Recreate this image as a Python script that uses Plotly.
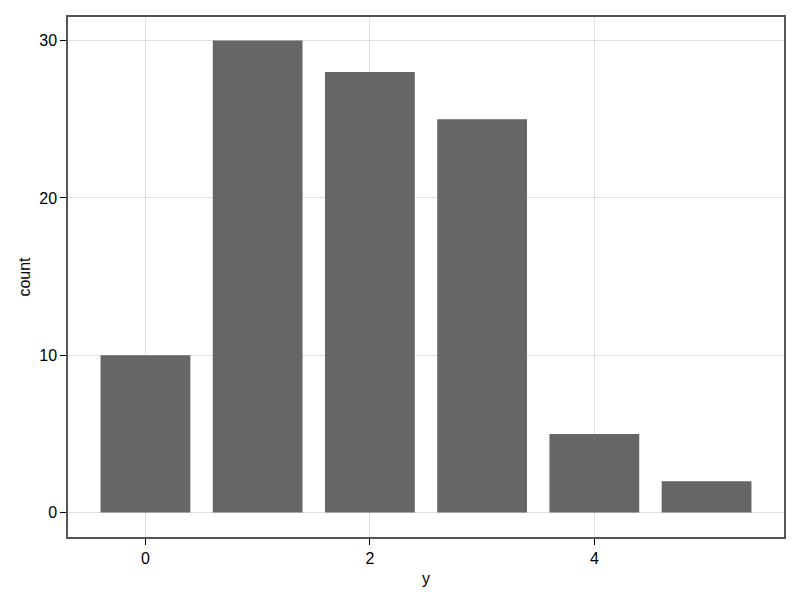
import plotly.graph_objects as go

y_values = [0, 1, 2, 3, 4, 5]
counts = [10, 30, 28, 25, 5, 2]
x_ticks = [0, 2, 4]
y_ticks = [0, 10, 20, 30]

fig = go.Figure()
fig.add_trace(go.Bar(
    x=y_values, y=counts, width=0.8,
    marker=dict(color="rgb(102,102,102)", line=dict(width=0)),
))

axis_common = dict(
    showline=True, linecolor="#555555", linewidth=1.5, mirror=True,
    ticks="outside", ticklen=6, tickwidth=1, tickcolor="black",
    showgrid=True, gridcolor="rgba(0,0,0,0.12)", gridwidth=1,
    zeroline=False, layer="above traces",
    tickfont=dict(family="Liberation Sans, Arial, sans-serif", size=16, color="black"),
    title_font=dict(family="Liberation Sans, Arial, sans-serif", size=16, color="black"),
)

fig.update_layout(
    width=800, height=600,
    margin=dict(l=60, r=24, t=7, b=71),
    paper_bgcolor="white", plot_bgcolor="white",
    showlegend=False,
    xaxis=dict(range=[-0.69, 5.69], tickvals=x_ticks, title=dict(text="y", standoff=7), **axis_common),
    yaxis=dict(range=[-1.55, 31.5], tickvals=y_ticks, title=dict(text="count", standoff=5), **axis_common),
)

fig.write_html("out.html")
